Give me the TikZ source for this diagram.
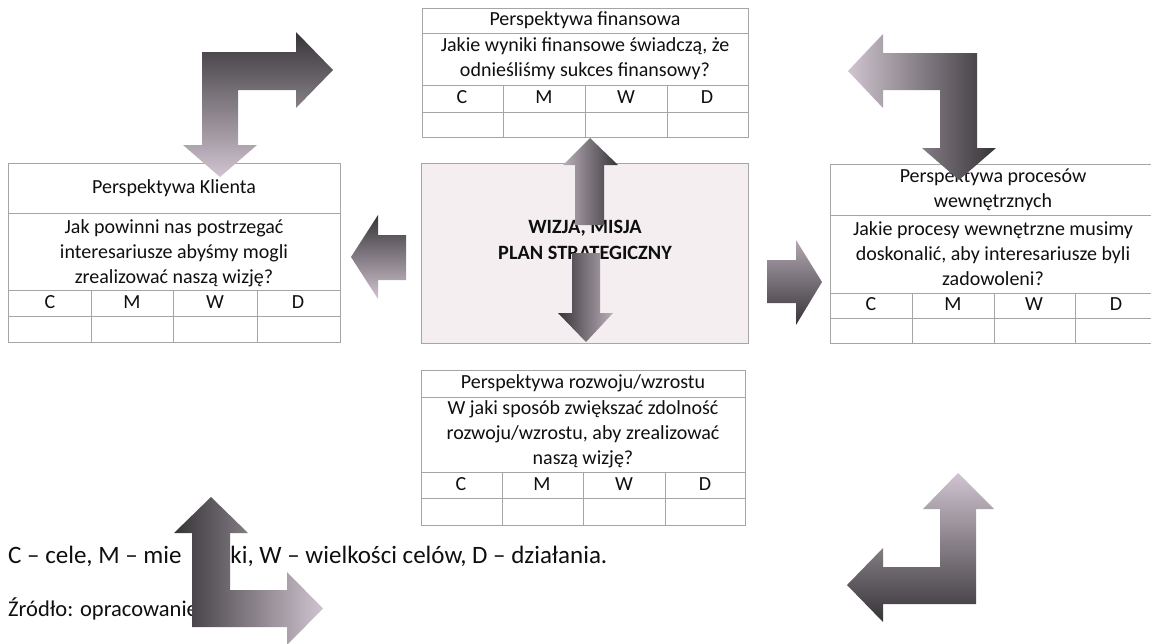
\documentclass[tikz,border=0pt]{standalone}
\usepackage{fontspec}
\setmainfont{Carlito}
\definecolor{arrdark}{RGB}{55,52,56}
\definecolor{arrlight}{RGB}{208,196,208}
\definecolor{tblline}{RGB}{165,165,165}
\definecolor{boxfill}{RGB}{244,238,241}
\definecolor{txt}{RGB}{15,15,15}
\begin{document}
\begin{tikzpicture}[x=1pt,y=-1pt,
  tbl/.style={draw=tblline,line width=0.6pt},
  lbl/.style={text=txt,font=\fontsize{20}{25}\selectfont,inner sep=0pt,align=center},
  one/.style={lbl,text height=14pt,text depth=4pt},
  bold/.style={text=txt,font=\fontsize{20.3}{26}\selectfont\bfseries,inner sep=0pt,align=center},
  arr/.style={draw=none}]
\useasboundingbox (0,0) rectangle (1151,643);

% ---------- Perspektywa finansowa ----------
\draw[tbl] (422,8) rectangle (748,137);
\draw[tbl] (422,33) -- (748,33) (422,85) -- (748,85) (422,112) -- (748,112);
\draw[tbl] (503,85) -- (503,137) (585,85) -- (585,137) (667,85) -- (667,137);
\node[one] (finH) at (585,20) {Perspektywa finansowa};
\node[lbl] (finQ) at (585,59) {Jakie wyniki finansowe świadczą, że\\odnieśliśmy sukces finansowy?};
\node[one] (finC) at (462,98) {C};
\node[one] (finM) at (544,98) {M};
\node[one] (finW) at (626,98) {W};
\node[one] (finD) at (707,98) {D};

% ---------- Perspektywa Klienta ----------
\draw[tbl] (8,163) rectangle (340,342);
\draw[tbl] (8,213) -- (340,213) (8,290) -- (340,290) (8,316) -- (340,316);
\draw[tbl] (91,290) -- (91,342) (173,290) -- (173,342) (257,290) -- (257,342);
\node[one] (kliH) at (174,188) {Perspektywa Klienta};
\node[lbl] (kliQ) at (174,253) {Jak powinni nas postrzegać\\interesariusze abyśmy mogli\\zrealizować naszą wizję?};
\node[one] (kliC) at (50,303) {C};
\node[one] (kliM) at (132,303) {M};
\node[one] (kliW) at (215,303) {W};
\node[one] (kliD) at (298,303) {D};

% ---------- center box ----------
\draw[tbl,fill=boxfill] (421,163) rectangle (748,343);
\node[bold] (vision) at (585,240) {WIZJA, MISJA\\PLAN STRATEGICZNY};

% ---------- Perspektywa procesów ----------
\draw[tbl] (830,164) rectangle (1157,343);
\draw[tbl] (830,215) -- (1157,215) (830,293) -- (1157,293) (830,318) -- (1157,318);
\draw[tbl] (912,293) -- (912,343) (994,293) -- (994,343) (1075,293) -- (1075,343);
\node[lbl] (proH) at (993,190) {Perspektywa procesów\\wewnętrznych};
\node[lbl] (proQ) at (993,254) {Jakie procesy wewnętrzne musimy\\doskonalić, aby interesariusze byli\\zadowoleni?};
\node[one] (proC) at (871,305) {C};
\node[one] (proM) at (953,305) {M};
\node[one] (proW) at (1034,305) {W};
\node[one] (proD) at (1116,305) {D};

% ---------- Perspektywa rozwoju/wzrostu ----------
\draw[tbl] (421,370) rectangle (745,525);
\draw[tbl] (421,397) -- (745,397) (421,472) -- (745,472) (421,498) -- (745,498);
\draw[tbl] (502,472) -- (502,525) (583,472) -- (583,525) (665,472) -- (665,525);
\node[one] (rozH) at (583,383) {Perspektywa rozwoju/wzrostu};
\node[lbl] (rozQ) at (583,434) {W jaki sposób zwiększać zdolność\\rozwoju/wzrostu, aby zrealizować\\naszą wizję?};
\node[one] (rozC) at (461,485) {C};
\node[one] (rozM) at (542,485) {M};
\node[one] (rozW) at (624,485) {W};
\node[one] (rozD) at (705,485) {D};

% ---------- notes ----------
\node[anchor=base west,inner sep=0pt,text=txt,font=\fontsize{25}{30}\selectfont] (legend) at (8,563) {C – cele, M – mie\kern10pt rn\kern17pt ki, W – wielkości celów, D – działania.};
\node[anchor=base west,inner sep=0pt,text=txt,font=\fontsize{22.5}{26}\selectfont] (source) at (8,616) {Źródło: opracowanie};

% ---------- block arrows ----------
% top-left bent arrow
\shade[arr,top color=arrdark,bottom color=arrlight]
  (202,52) -- (296,52) -- (296,32) -- (333,70) -- (296,108) -- (296,90) -- (238,90)
  -- (238,145) -- (257,145) -- (220,177) -- (183,145) -- (202,145) -- cycle;
% top-right bent arrow
\shade[arr,left color=arrlight,right color=arrdark]
  (977,53) -- (883,53) -- (883,34) -- (848,71) -- (883,108) -- (883,90) -- (940,90)
  -- (940,148) -- (922,148) -- (959,180) -- (996,148) -- (977,148) -- cycle;
% left small arrow
\shade[arr,top color=arrdark,bottom color=arrlight]
  (406,235) -- (378,235) -- (378,215) -- (351,257) -- (378,299) -- (378,280) -- (406,280) -- cycle;
% right small arrow
\shade[arr,top color=arrlight!80!arrdark,bottom color=arrdark]
  (767,260) -- (796,260) -- (796,240) -- (822,282) -- (796,325) -- (796,303) -- (767,303) -- cycle;
% center up arrow
\shade[arr,left color=arrlight!85!arrdark,right color=arrdark]
  (575,225) -- (575,165) -- (563,165) -- (590,138) -- (618,165) -- (604,165) -- (604,225) -- cycle;
% center down arrow
\shade[arr,left color=arrdark,right color=arrlight!85!arrdark]
  (572,253) -- (600,253) -- (600,313) -- (613,313) -- (586,342) -- (558,313) -- (572,313) -- cycle;
% bottom-left bent arrow
\shade[arr,left color=arrdark,right color=arrlight]
  (192,627) -- (192,533) -- (174,533) -- (211,497) -- (248,533) -- (230,533) -- (230,590)
  -- (287,590) -- (287,572) -- (323,608.5) -- (287,645) -- (287,627) -- cycle;
% bottom-right bent arrow
\shade[arr,top color=arrlight,bottom color=arrdark]
  (976,604) -- (976,509) -- (994,509) -- (958,473) -- (923,509) -- (940,509) -- (940,567)
  -- (883,567) -- (883,548) -- (847,585) -- (883,622) -- (883,604) -- cycle;
\end{tikzpicture}
\end{document}
